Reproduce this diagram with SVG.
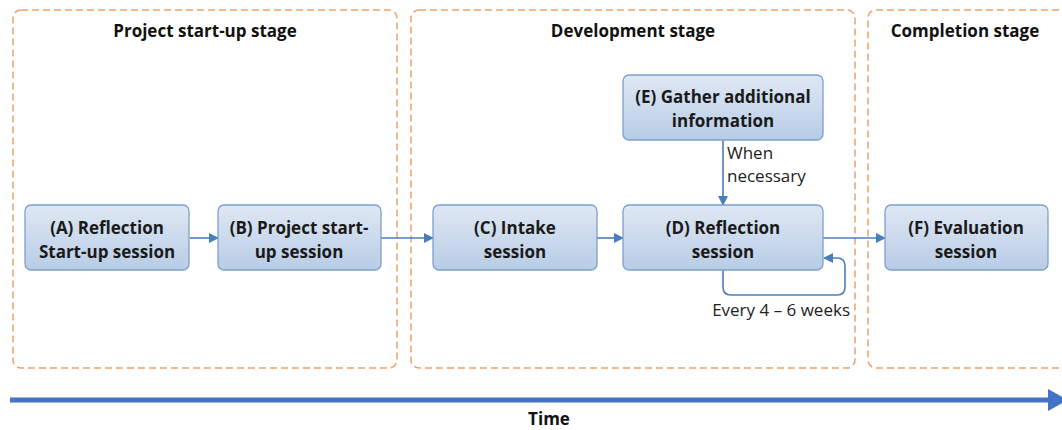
<svg xmlns="http://www.w3.org/2000/svg" width="1062" height="430" viewBox="0 0 1062 430">
<style>
.stage{fill:none;stroke:#f0a26a;stroke-width:1.5;stroke-dasharray:7,4}
.node{fill:url(#g);stroke:#7f9fcb;stroke-width:1.3}
.t{font-family:"Open Sans","Liberation Sans",sans-serif;font-weight:bold;font-size:17px;fill:#1a1a1a;text-anchor:middle}
.h{font-family:"Open Sans","Liberation Sans",sans-serif;font-weight:bold;font-size:17px;fill:#111;text-anchor:middle}
.l{font-family:"Open Sans","Liberation Sans",sans-serif;font-size:17px;fill:#222}
.c{fill:none;stroke:#4a7ebb;stroke-width:1.6}
</style>
<defs>
<linearGradient id="g" x1="0" y1="0" x2="0" y2="1">
<stop offset="0" stop-color="#dfe8f4"/>
<stop offset="1" stop-color="#b8cce6"/>
</linearGradient>
<marker id="a" viewBox="0 0 10 10" refX="9" refY="5" markerWidth="10" markerHeight="10" markerUnits="userSpaceOnUse" orient="auto">
<path d="M0,0 L10,5 L0,10 z" fill="#4a7ebb"/>
</marker>
</defs>
<g id="stages">
<rect class="stage" x="13" y="10" width="384" height="358" rx="8"/>
<rect class="stage" x="411" y="10" width="444" height="358" rx="8"/>
<rect class="stage" x="868" y="10" width="210" height="358" rx="8"/>
<text class="h" x="205" y="37">Project start-up stage</text>
<text class="h" x="633" y="37">Development stage</text>
<text class="h" x="965" y="37">Completion stage</text>
</g>
<g id="connectors">
<line class="c" x1="190" y1="238" x2="218" y2="238" marker-end="url(#a)"/>
<line class="c" x1="381" y1="238" x2="433" y2="238" marker-end="url(#a)"/>
<line class="c" x1="597" y1="238" x2="623" y2="238" marker-end="url(#a)"/>
<line class="c" x1="823" y1="238" x2="885" y2="238" marker-end="url(#a)"/>
<line class="c" x1="723" y1="140" x2="723" y2="205" marker-end="url(#a)"/>
<path class="c" d="M723,270 V287 Q723,295 731,295 H837 Q845,295 845,287 V266 Q845,258 837,258 H824" marker-end="url(#a)"/>
<text class="l" x="727" y="159">When</text>
<text class="l" x="727" y="182">necessary</text>
<text class="l" x="850" y="316" text-anchor="end">Every 4 – 6 weeks</text>
</g>
<g id="nodeA"><rect class="node" x="25" y="205" width="164" height="65" rx="6"/><text class="t" x="107" y="234">(A) Reflection</text><text class="t" x="107" y="258">Start-up session</text></g>
<g id="nodeB"><rect class="node" x="218" y="205" width="163" height="65" rx="6"/><text class="t" x="299" y="234">(B) Project start-</text><text class="t" x="299" y="258">up session</text></g>
<g id="nodeC"><rect class="node" x="433" y="205" width="164" height="65" rx="6"/><text class="t" x="515" y="234">(C) Intake</text><text class="t" x="515" y="258">session</text></g>
<g id="nodeD"><rect class="node" x="623" y="205" width="200" height="65" rx="6"/><text class="t" x="723" y="234">(D) Reflection</text><text class="t" x="723" y="258">session</text></g>
<g id="nodeE"><rect class="node" x="623" y="75" width="200" height="65" rx="6"/><text class="t" x="723" y="103">(E) Gather additional</text><text class="t" x="723" y="127">information</text></g>
<g id="nodeF"><rect class="node" x="885" y="205" width="163" height="65" rx="6"/><text class="t" x="966" y="234">(F) Evaluation</text><text class="t" x="966" y="258">session</text></g>
<g id="timeline">
<line x1="10" y1="400" x2="1052" y2="400" stroke="#4472c4" stroke-width="5"/>
<path d="M1048,389 L1068,400 L1048,411 z" fill="#4472c4"/>
<text class="h" x="549" y="425">Time</text>
</g>
</svg>
